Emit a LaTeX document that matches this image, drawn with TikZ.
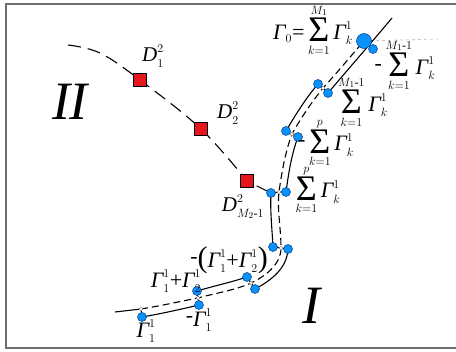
\RequirePackage{fix-cm}
\documentclass[tikz,border=0pt]{standalone}
\usepackage{amsmath}
\usepackage{fontspec}
\setmainfont{Liberation Serif}
\DeclareMathSizes{22}{22}{12}{9}
\DeclareMathSizes{21}{21}{12}{9}
\definecolor{dotblue}{RGB}{10,146,250}
\definecolor{dotedge}{RGB}{0,60,140}
\definecolor{sqred}{RGB}{230,22,30}
\definecolor{framegray}{RGB}{110,110,110}
\newcommand\Gm{\text{\itshape Γ}}
\newcommand\Dm{\text{\itshape D}}
\newcommand\Sm{\mathop{\raisebox{-2.5pt}{\fontsize{36}{36}\selectfont Σ}}\limits}
\newcommand\mn{\text{\raisebox{4pt}{-}}}
\newcommand\pl{\text{+}}
\newcommand\eq{\text{=}}
\newcommand\lpar{\text{\fontsize{30}{30}\selectfont(}}
\newcommand\rpar{\text{\fontsize{30}{30}\selectfont)}}
\begin{document}
\begin{tikzpicture}[x=1pt,y=-1pt,
  bdot/.style={circle,fill=dotblue,draw=dotedge,line width=0.5pt,inner sep=0pt,minimum size=9pt},
  bigdot/.style={bdot,minimum size=15pt},
  wdot/.style={circle,fill=white,draw=gray,line width=0.4pt,inner sep=0pt,minimum size=3.6pt},
  rsq/.style={rectangle,fill=sqred,draw=black,line width=0.7pt,inner sep=0pt,minimum size=13.5pt},
  lab/.style={inner sep=0pt,font=\fontsize{22}{26}\selectfont},
  dlab/.style={inner sep=0pt,font=\fontsize{21}{25}\selectfont},
  region/.style={inner sep=0pt,font=\fontsize{54}{62}\selectfont\itshape},
  sheet/.style={line width=1.1pt,line join=round},
  midline/.style={line width=1.1pt,dash pattern=on 7pt off 4pt},
  iidash/.style={line width=1.1pt,dash pattern=on 13pt off 7pt},
  hguide/.style={line width=0.8pt,gray!45,dash pattern=on 3pt off 3pt}]
\useasboundingbox (0,0) rectangle (456,352);
% frame
\coordinate (f1) at (456,4); \coordinate (f2) at (6,4);
\coordinate (f3) at (6,348); \coordinate (f4) at (456,348);
\draw[framegray,line width=2pt] (f1) -- (f2) -- (f3) -- (f4);
% points of sheet I
\coordinate (s0) at (115,312);
\coordinate (w1) at (141,309); \coordinate (p1) at (142,317);
\coordinate (w2) at (198,298); \coordinate (p2u) at (197,291); \coordinate (p2l) at (199,305);
\coordinate (w3) at (251,283); \coordinate (p3u) at (247,277); \coordinate (p3l) at (255,289);
\coordinate (w4) at (281,248); \coordinate (p4l) at (273,247); \coordinate (p4r) at (288,249);
\coordinate (w5) at (279,192); \coordinate (p5l) at (271,193); \coordinate (p5r) at (286,192);
\coordinate (w6) at (292,134); \coordinate (p6l) at (286,131); \coordinate (p6r) at (298,137);
\coordinate (w7) at (323,88); \coordinate (p7l) at (318,84); \coordinate (p7r) at (328,93);
\coordinate (g0) at (364,41); \coordinate (g0r) at (373,49);
\coordinate (s9) at (392,18);
\coordinate (gEnd) at (438,39);
% region II points
\coordinate (d0) at (68,45); \coordinate (d0a) at (100,53);
\coordinate (q1) at (140,80); \coordinate (q2) at (201,129); \coordinate (q3) at (247,181);
% guide
\draw[hguide] (g0) -- (gEnd);
% region II dashed line
\draw[iidash] plot[smooth,tension=0.6] coordinates {(d0) (d0a) (q1) (q2) (q3)} -- (p5l);
% dashed mid line
\draw[midline] (w1) .. controls (160,306) and (182,301) .. (w2)
  .. controls (216,293) and (236,290) .. (w3)
  .. controls (266,276) and (281,264) .. (w4)
  .. controls (281,228) and (277,210) .. (w5)
  .. controls (282,170) and (286,150) .. (w6)
  .. controls (302,116) and (312,102) .. (w7)
  .. controls (336,74) and (350,57) .. (g0);
% solid sheet
\draw[sheet] (s0) -- (w1) -- (p1)
  .. controls (160,314) and (182,309) .. (p2l) -- (w2) -- (p2u)
  .. controls (214,286) and (232,282) .. (p3u) -- (w3) -- (p3l)
  .. controls (272,280) and (287,268) .. (p4r) -- (w4) -- (p4l)
  .. controls (272,228) and (270,210) .. (p5l) -- (w5) -- (p5r)
  .. controls (289,170) and (292,153) .. (p6r) -- (w6) -- (p6l)
  .. controls (296,114) and (306,98) .. (p7l) -- (w7) -- (p7r)
  .. controls (344,74) and (360,56) .. (s9);
% white crossing marks
\foreach \w in {w1,w2,w3,w4,w5,w6,w7} \node[wdot] (W\w) at (\w) {};
% blue vortices
\foreach \p in {p1,p2u,p2l,p3u,p3l,p4l,p4r,p5l,p5r,p6l,p6r,p7l,p7r,g0r} \node[bdot] (B\p) at (\p) {};
\node[bigdot] (Bg0) at (g0) {};
% red squares
\node[rsq] (Q1) at (q1) {};
\node[rsq] (Q2) at (q2) {};
\node[rsq] (Q3) at (q3) {};
% labels
\node[lab] (LG0) at (313,30) {$\Gm_{0}\eq\Sm_{k=1}^{M_1}\Gm_k^1$};
\node[lab] (LMn) at (405,65) {$\mn\Sm_{k=1}^{M_1\text{-}1}\Gm_k^1$};
\node[lab] (LMp) at (363,102) {$\Sm_{k=1}^{M_1\text{-}1}\Gm_k^1$};
\node[lab] (LPn) at (326,143) {$\mn\Sm_{k=1}^{p}\Gm_k^1$};
\node[lab] (LPp) at (318,190) {$\Sm_{k=1}^{p}\Gm_k^1$};
\node[lab] (L12n) at (229,260) {$\mn\lpar\Gm_1^1\pl\Gm_2^1\rpar$};
\node[lab] (L12) at (176,281) {$\Gm_1^1\pl\Gm_2^1$};
\node[lab] (L1n) at (199,320) {$\mn\Gm_1^1$};
\node[lab] (L1) at (146,331) {$\Gm_1^1$};
\node[dlab] (LD1) at (153,56) {$\Dm_1^2$};
\node[dlab] (LD2) at (228,113) {$\Dm_2^2$};
\node[dlab] (LDM) at (243,207) {$\Dm_{M_2\text{-}1}^2$};
\node[region] (RII) at (70,102) {II};
\node[region] (RI) at (311,306) {I};
\end{tikzpicture}
\end{document}
